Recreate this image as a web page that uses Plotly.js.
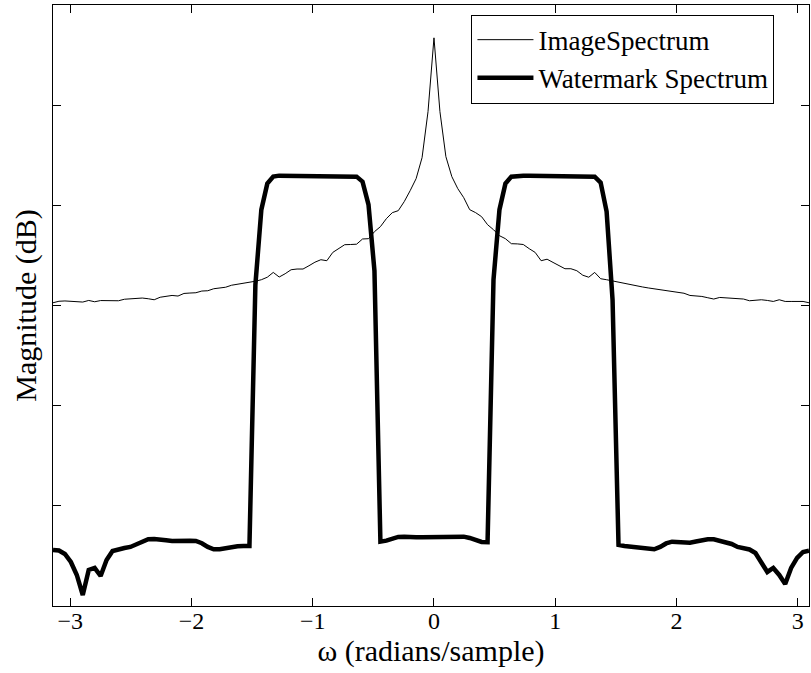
<!DOCTYPE html>
<html>
<head>
<meta charset="utf-8">
<script src="https://cdn.plot.ly/plotly-3.0.1.min.js"></script>
<style>html,body{margin:0;padding:0;background:#fff;}#chart{width:811px;height:673px;}</style>
</head>
<body>
<div id="chart"></div>
<script>
// Frequency grid: 128 samples over [-pi, pi)
var nSamples = 128;
var omega = [];
for (var k = 0; k < nSamples; k++) omega.push(-Math.PI + k * 2 * Math.PI / nSamples);

// Image spectrum magnitude (dB)
var imageSpectrum = [
 -19.70,-19.55,-19.52,-19.55,-19.60,-19.63,-19.47,-19.60,-19.48,-19.50,
 -19.50,-19.50,-19.35,-19.30,-19.25,-19.23,-19.30,-19.40,-19.15,-19.05,
 -18.97,-19.03,-18.77,-18.73,-18.70,-18.53,-18.50,-18.30,-18.23,-18.15,
 -17.95,-17.85,-17.77,-17.70,-17.55,-17.40,-17.15,-16.67,-17.13,-16.80,
 -16.40,-16.33,-16.33,-16.00,-15.65,-15.40,-15.50,-14.67,-14.30,-13.90,
 -13.88,-13.85,-13.33,-13.30,-12.60,-12.10,-11.30,-10.70,-10.50,-9.60,
 -8.50,-7.30,-5.20,-0.60,6.77,-0.60,-5.10,-7.10,-8.30,-9.20,
 -10.40,-10.70,-11.10,-11.90,-12.40,-13.00,-13.30,-13.80,-13.82,-13.88,
 -14.30,-14.67,-15.50,-15.35,-15.67,-16.00,-16.30,-16.30,-16.50,-16.95,
 -17.15,-16.67,-17.30,-17.40,-17.53,-17.65,-17.73,-17.85,-17.98,-18.12,
 -18.22,-18.32,-18.40,-18.50,-18.60,-18.67,-18.75,-18.97,-19.02,-19.07,
 -19.20,-19.33,-19.17,-19.20,-19.22,-19.25,-19.33,-19.50,-19.45,-19.40,
 -19.47,-19.57,-19.40,-19.57,-19.57,-19.57,-19.57,-19.70
];

// Watermark spectrum magnitude (dB)
var watermarkSpectrum = [
 -44.40,-44.45,-44.80,-45.60,-46.90,-48.90,-46.40,-46.20,-47.00,-45.40,
 -44.50,-44.30,-44.20,-44.10,-43.85,-43.50,-43.33,-43.30,-43.32,-43.43,
 -43.50,-43.53,-43.53,-43.48,-43.50,-43.73,-44.10,-44.33,-44.33,-44.20,
 -44.07,-44.03,-44.00,-44.00,-17.90,-10.40,-7.80,-7.10,-7.00,-7.00,
 -7.00,-7.00,-7.00,-7.00,-7.00,-7.00,-7.00,-7.00,-7.00,-7.00,
 -7.00,-7.10,-7.60,-9.90,-16.50,-43.57,-43.47,-43.30,-43.10,-43.07,
 -43.13,-43.13,-43.13,-43.13,-43.13,-43.13,-43.13,-43.13,-43.10,-43.07,
 -43.20,-43.45,-43.60,-43.63,-17.40,-10.40,-7.80,-7.10,-7.00,-7.00,
 -7.00,-7.00,-7.00,-7.00,-7.00,-7.00,-7.00,-7.00,-7.00,-7.00,
 -7.00,-7.10,-7.70,-10.60,-19.40,-43.90,-44.00,-44.05,-44.13,-44.20,
 -44.25,-44.33,-44.10,-43.75,-43.57,-43.60,-43.65,-43.67,-43.55,-43.40,
 -43.33,-43.33,-43.45,-43.60,-43.80,-44.10,-44.25,-44.35,-44.70,-45.60,
 -46.60,-46.20,-46.90,-47.80,-46.20,-45.20,-44.60,-44.47
];

var xTickVals = [-3, -2, -1, 0, 1, 2, 3];
var xTickText = ['\u22123', '\u22122', '\u22121', '0', '1', '2', '3'];
var yTickVals = [-40, -30, -20, -10, 0];

var serif = 'Liberation Serif, Times New Roman, serif';

var traces = [
  {x: omega, y: imageSpectrum, type: 'scatter', mode: 'lines', name: 'ImageSpectrum',
   line: {color: '#000', width: 1}},
  {x: omega, y: watermarkSpectrum, type: 'scatter', mode: 'lines', name: 'Watermark Spectrum',
   line: {color: '#000', width: 4.5}}
];

var layout = {
  width: 811, height: 673,
  margin: {l: 53, r: 2, t: 5, b: 67},
  paper_bgcolor: '#fff', plot_bgcolor: '#fff',
  font: {family: serif, color: '#000', size: 24},
  showlegend: true,
  legend: {x: 0.9543, xanchor: 'right', y: 0.984, yanchor: 'top',
           bordercolor: '#000', borderwidth: 1, bgcolor: '#fff',
           font: {family: serif, size: 27, color: '#000'},
           itemwidth: 56, tracegroupgap: 0},
  xaxis: {
    range: [-Math.PI, Math.PI - 2 * Math.PI / nSamples],
    tickvals: xTickVals, ticktext: xTickText,
    ticks: 'inside', ticklen: 8, tickcolor: '#000', tickwidth: 1,
    showline: true, linecolor: '#000', linewidth: 1, mirror: 'ticks',
    showgrid: false, zeroline: false,
    ticklabelstandoff: -7,
    tickfont: {family: serif, size: 24, color: '#000'},
    title: {text: '\u03c9 (radians/sample)', font: {family: serif, size: 30, color: '#000'}, standoff: 0}
  },
  yaxis: {
    range: [-50, 10.05],
    tickvals: yTickVals, showticklabels: false,
    ticks: 'inside', ticklen: 8, tickcolor: '#000', tickwidth: 1,
    showline: true, linecolor: '#000', linewidth: 1, mirror: 'ticks',
    showgrid: false, zeroline: false,
    title: {text: 'Magnitude (dB)', font: {family: serif, size: 30, color: '#000'}, standoff: 6}
  }
};

Plotly.newPlot('chart', traces, layout, {displayModeBar: false, staticPlot: true});
</script>
</body>
</html>
